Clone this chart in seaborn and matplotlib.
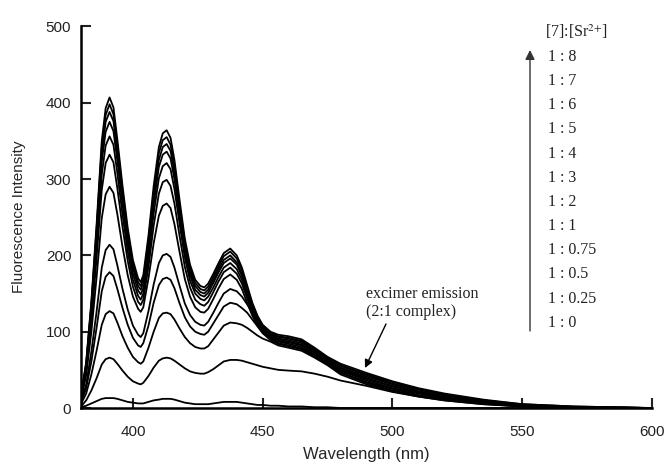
import matplotlib
matplotlib.use("Agg")
import matplotlib.pyplot as plt
import seaborn as sns
import pandas as pd
import numpy as np

sns.set_style("ticks")
plt.rcParams['font.family'] = ['Liberation Sans', 'DejaVu Sans']
plt.rcParams['mathtext.fontset'] = 'stix'

# wavelength grid (nm) the spectra were read at
wavelength = [380, 382, 384, 386, 388, 389.5, 391, 392.5, 394, 396, 398, 400, 402, 403,
              404, 406, 408, 410, 411.5, 413, 414.5, 416, 418, 420, 422, 424, 426, 427.5,
              429, 431, 433, 435, 437.5, 440, 442, 444, 446, 448, 450, 453,
              456, 460, 465, 470, 475, 480, 490, 500, 510, 520, 535, 550, 570, 600]

# fluorescence intensity, one list per [7]:[Sr2+] ratio
r8 = [15, 60, 140, 240, 350, 393, 407, 394, 352, 291, 236, 194, 170, 165,
      174, 226, 291, 342, 360, 364, 354, 325, 272, 222, 188, 168, 160, 158,
      163, 176, 190, 203, 209, 200, 184, 161, 138, 121, 109, 100,
      96, 94, 90, 79, 67, 58, 46, 35, 26, 19, 11, 5, 2, 0]
r7 = [15, 59, 137, 235, 342, 384, 398, 385, 344, 284, 230, 188, 165, 160,
      169, 220, 283, 334, 351, 355, 345, 317, 265, 217, 183, 164, 156, 154,
      159, 172, 186, 199, 205, 196, 181, 158, 136, 119, 108, 99,
      94, 92, 88, 78, 66, 56, 44, 34, 25, 18, 10, 5, 2, 0]
r6 = [14, 57, 133, 229, 334, 375, 388, 376, 335, 276, 224, 183, 160, 155,
      164, 214, 276, 325, 342, 346, 337, 309, 258, 211, 179, 160, 152, 150,
      155, 168, 182, 194, 200, 191, 176, 155, 133, 117, 106, 97,
      93, 91, 87, 76, 65, 55, 43, 32, 24, 17, 10, 4, 1, 0]
r5 = [14, 55, 129, 221, 323, 362, 375, 363, 324, 266, 216, 176, 154, 149,
      157, 207, 267, 316, 332, 336, 327, 300, 251, 205, 174, 155, 148, 146,
      151, 164, 178, 190, 196, 188, 173, 152, 131, 115, 104, 96,
      91, 89, 85, 75, 63, 53, 41, 31, 22, 16, 9, 4, 1, 0]
r4 = [13, 52, 122, 210, 306, 344, 356, 345, 308, 253, 205, 168, 147, 142,
      150, 197, 255, 301, 317, 321, 313, 287, 241, 197, 167, 150, 143, 141,
      146, 158, 172, 184, 190, 182, 168, 148, 128, 113, 103, 95,
      90, 87, 83, 73, 62, 52, 39, 29, 21, 15, 8, 4, 1, 0]
r3 = [12, 49, 114, 196, 286, 321, 332, 322, 288, 237, 193, 159, 139, 135,
      142, 185, 239, 281, 296, 299, 291, 268, 225, 185, 158, 142, 136, 134,
      139, 152, 166, 178, 184, 176, 163, 144, 125, 110, 101, 93,
      88, 86, 82, 72, 61, 50, 38, 28, 20, 14, 8, 3, 1, 0]
r2 = [11, 43, 100, 171, 249, 280, 290, 282, 254, 211, 174, 146, 130, 126,
      132, 170, 216, 252, 265, 268, 262, 241, 204, 169, 146, 132, 126, 125,
      130, 143, 157, 169, 175, 168, 156, 138, 121, 108, 99, 92,
      87, 84, 80, 70, 60, 49, 36, 26, 19, 13, 7, 3, 1, 0]
r1 = [8, 31, 74, 126, 184, 207, 214, 208, 187, 156, 129, 108, 96, 93,
      98, 127, 162, 190, 200, 202, 198, 184, 160, 137, 122, 113, 109, 108,
      113, 125, 138, 150, 156, 153, 146, 136, 125, 114, 101, 91,
      85, 82, 78, 69, 58, 47, 34, 25, 17, 12, 6, 3, 0, 0]
r075 = [7, 26, 61, 105, 153, 172, 178, 173, 156, 131, 109, 92, 82, 80,
        85, 108, 138, 161, 169, 171, 168, 157, 137, 119, 107, 100, 97, 96,
        100, 111, 122, 133, 138, 136, 131, 125, 116, 107, 98, 89,
        84, 81, 77, 67, 57, 46, 33, 23, 16, 11, 6, 2, 0, 0]
r05 = [5, 19, 44, 75, 109, 123, 127, 124, 112, 94, 79, 67, 60, 58,
       61, 79, 100, 118, 124, 125, 123, 116, 104, 93, 85, 80, 78, 78,
       81, 90, 99, 108, 112, 111, 109, 105, 100, 95, 91, 87,
       82, 79, 75, 66, 56, 44, 31, 22, 15, 10, 5, 2, 0, 0]
r025 = [2, 10, 23, 39, 57, 64, 66, 64, 58, 49, 41, 35, 32, 31,
        33, 42, 53, 62, 65, 66, 65, 62, 57, 52, 48, 46, 45, 45,
        47, 51, 56, 61, 63, 63, 62, 60, 58, 56, 54, 52,
        50, 49, 48, 45, 41, 36, 29, 21, 15, 10, 5, 2, 0, 0]
r0 = [1, 3, 6, 9, 12, 13, 13, 13, 12, 10, 8, 7, 6, 6,
      6, 8, 10, 11, 12, 12, 12, 11, 9, 7, 6, 5, 5, 5,
      5, 6, 7, 8, 8, 8, 7, 6, 5, 4, 4, 3,
      3, 2, 2, 1, 1, 0, 0, 0, 0, 0, 0, 0, 0, 0]

ratio_labels = ['1 : 8', '1 : 7', '1 : 6', '1 : 5', '1 : 4', '1 : 3', '1 : 2',
                '1 : 1', '1 : 0.75', '1 : 0.5', '1 : 0.25', '1 : 0']
spectra = [r8, r7, r6, r5, r4, r3, r2, r1, r075, r05, r025, r0]

frames = []
for lab, vals in zip(ratio_labels, spectra):
    frames.append(pd.DataFrame({'wavelength': wavelength, 'intensity': vals, 'ratio': lab}))
df = pd.concat(frames, ignore_index=True)

W, H = 665, 462
fig = plt.figure(figsize=(W / 100, H / 100), dpi=100)
ax = fig.add_axes([81 / W, 1 - 408 / H, (652 - 81) / W, (408 - 26.5) / H])

sns.lineplot(data=df, x='wavelength', y='intensity', units='ratio', estimator=None,
             color='black', linewidth=1.3, sort=False, ax=ax)

ax.set_xlim(380, 600)
ax.set_ylim(0, 500)
ax.set_xticks([400, 450, 500, 550, 600])
ax.set_yticks([0, 100, 200, 300, 400, 500])
ax.set_xlabel('Wavelength (nm)', fontsize=12, labelpad=6)
ax.set_ylabel('Fluorescence Intensity', fontsize=11, labelpad=14)
ax.tick_params(direction='in', length=7, width=1.5, labelsize=11, colors='#222222')
ax.tick_params(axis='x', pad=12)
ax.tick_params(axis='y', pad=7)
sns.despine(ax=ax)
for s in ['left', 'bottom']:
    ax.spines[s].set_linewidth(1.8)
    ax.spines[s].set_color('black')

# ratio list with arrow
serif = ['Liberation Serif', 'DejaVu Serif']
fig.text(545 / W, 1 - 31.5 / H, r'[7]:[Sr$^{2{+}}$]', family=serif, fontsize=11.5,
         va='center', ha='left', color='#222222')
for i, lab in enumerate(ratio_labels):
    y = 56.7 + i * 24.2
    fig.text(548 / W, 1 - y / H, lab, family=serif, fontsize=11.5,
             va='center', ha='left', color='#222222')
ax.annotate('', xy=(530 / W, 1 - 50 / H), xytext=(530 / W, 1 - 331 / H),
            xycoords='figure fraction', textcoords='figure fraction',
            arrowprops=dict(arrowstyle='-|>', color='#333333', lw=1.0,
                            mutation_scale=14, shrinkA=0, shrinkB=0))

# excimer annotation
fig.text(366 / W, 1 - 303 / H, 'excimer emission\n(2:1 complex)', family=serif,
         fontsize=11.5, va='center', ha='left', linespacing=1.15, color='#222222')
ax.annotate('', xy=(365 / W, 1 - 368 / H), xytext=(386 / W, 1 - 324 / H),
            xycoords='figure fraction', textcoords='figure fraction',
            arrowprops=dict(arrowstyle='-|>', color='black', lw=1.0,
                            mutation_scale=12, shrinkA=0, shrinkB=0))

fig.savefig('out.png', dpi=100)
